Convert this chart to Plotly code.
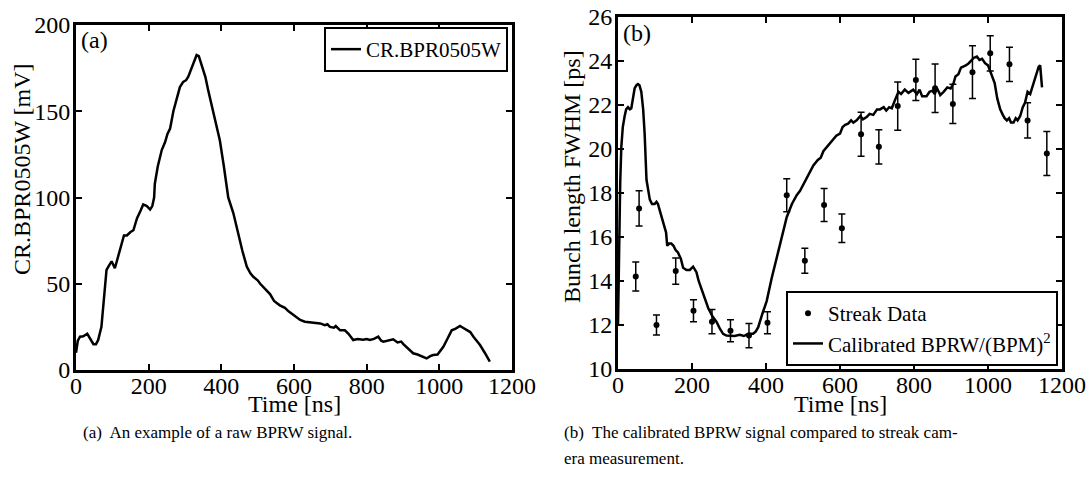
import plotly.graph_objects as go

# ---- Panel (a): raw BPRW signal ----
raw_t = [0, 5, 11, 20, 31, 40, 48, 55, 61, 70, 78, 84, 92, 98, 107, 115, 125, 132, 140, 150,
         158, 168, 177, 185, 195, 204, 210, 215, 217, 225, 236, 245, 252, 259, 268, 278, 286,
         295, 303, 309, 318, 326, 332, 338, 341, 348, 356, 364, 374, 385, 396, 407, 419, 433,
         445, 458, 470, 480, 488, 500, 507, 515, 525, 534, 545, 561, 575, 585, 598, 608, 617,
         630, 645, 660, 672, 685, 692, 699, 710, 715, 727, 740, 750, 763, 775, 790, 800, 809,
         820, 832, 840, 846, 860, 873, 885, 895, 901, 915, 928, 940, 955, 965, 975, 983, 995,
         1011, 1022, 1034, 1045, 1057, 1065, 1075, 1085, 1095, 1105, 1112, 1125, 1139]
raw_mv = [10, 17, 19.3, 19.5, 21, 18, 15, 15, 17.4, 25, 45, 58, 61, 63, 59, 65, 72, 78, 78, 80,
          81, 88, 92, 96, 95, 93, 95, 100, 108, 118, 127.5, 132, 137, 140, 150, 158, 164,
          167, 168, 170, 175, 180, 182.6, 182, 180, 175, 170, 162, 153, 143, 133, 118, 100, 91,
          80, 69, 60, 56, 54, 52, 50, 48, 46, 44, 40, 37.5, 36, 34, 32, 30, 29,
          28, 27.5, 27, 27, 26, 26.5, 25, 24.5, 25.5, 23, 23, 21, 17.4, 18, 17.5, 18, 17.4,
          18, 19.3, 17, 16.4, 17, 17.8, 16, 16.5, 15, 12, 9.7, 9, 7.5, 6.7, 8, 8.7, 9,
          13.5, 18, 23, 24, 25.5, 24.5, 23, 22, 19, 16.5, 14.5, 10, 4.8]

# ---- Panel (b): calibrated signal ----
cal_t = [0, 3, 6, 9, 13, 18, 22, 27, 32, 36, 40, 45, 50, 54, 58, 63, 68, 72, 77, 81, 86, 92,
         99, 104, 108, 113, 120, 126, 130, 133, 138, 144, 150, 156, 162, 170, 176, 185, 194,
         203, 208, 212, 218, 226, 235, 244, 255, 266, 275, 284, 293, 302, 315, 329, 340, 352,
         365, 372, 379, 390, 402, 415, 429, 442, 456, 470, 483, 492, 501, 510, 520, 528, 540,
         548, 555, 565, 575, 582, 590, 600, 607, 614, 622, 630, 636, 645, 655, 662, 672, 680,
         690, 700, 708, 718, 725, 733, 740, 748, 758, 765, 775, 785, 798, 808, 815, 822, 834,
         842, 850, 856, 862, 867, 871, 880, 890, 899, 907, 912, 920, 927, 934, 940, 948, 955,
         962, 970, 977, 984, 992, 1000, 1010, 1018, 1025, 1033, 1040, 1045, 1051, 1057, 1062,
         1069, 1075, 1080, 1087, 1094, 1100, 1107, 1114, 1122, 1130, 1137, 1141, 1146]
cal_ps = [12, 16, 18.5, 20.1, 21, 21.5, 21.8, 21.9, 21.8, 21.85, 22.3, 22.76, 22.9, 22.95, 22.9,
          22.6, 21.8, 20.7, 18.6, 18.2, 17.7, 17.5, 17.5, 17.6, 17.5, 17.2, 16.8, 16.5, 16.2,
          15.6, 15.7, 15.7, 15.6, 15.4, 15.3, 15.0, 14.6, 14.5, 14.5, 14.65, 14.5, 14.4, 14.0,
          13.6, 13.2, 12.76, 12.4, 12.15, 11.85, 11.6, 11.52, 11.5, 11.5, 11.55, 11.5, 11.6,
          11.6, 11.7, 11.9, 12.5, 13.1, 14.1, 15.1, 16.0, 16.9, 17.5, 17.9, 18.1, 18.4, 18.7,
          19.0, 19.25, 19.5, 19.6, 19.9, 20.1, 20.3, 20.4, 20.6, 20.7, 21.0, 21.1, 21.15, 21.3,
          21.2, 21.3, 21.5, 21.35, 21.45, 21.6, 21.55, 21.8, 21.8, 21.9, 21.75, 21.9, 21.85,
          22.2, 22.6, 22.5, 22.7, 22.55, 22.7, 22.5, 22.7, 22.4, 22.4, 22.6, 22.65, 22.5, 22.76,
          22.6, 22.45, 22.6, 22.8, 22.75, 23.0, 23.3, 23.4, 23.7, 23.74, 23.8, 23.9, 24.05,
          24.15, 24.2, 24.05, 24.1, 23.9, 23.8, 23.4, 23.0, 22.3, 21.8, 21.55, 21.4, 21.3, 21.4,
          21.2, 21.2, 21.4, 21.3, 21.5, 21.9, 22.1, 22.6, 22.5, 22.9, 23.3, 23.74, 23.8, 22.8]

streak_t = [48, 57, 104, 156, 204, 254, 304, 354, 404, 456, 505, 557, 605, 657, 705, 756, 805,
            857, 905, 958, 1006, 1058, 1107, 1159]
streak_ps = [14.2, 17.3, 12.0, 14.45, 12.65, 12.15, 11.74, 11.52, 12.1, 17.9, 14.92, 17.45,
             16.4, 20.67, 20.1, 21.95, 23.14, 22.76, 22.05, 23.49, 24.35, 23.85, 21.3, 19.8]
streak_err = [0.66, 0.8, 0.45, 0.6, 0.5, 0.55, 0.5, 0.55, 0.5, 0.75, 0.57, 0.75, 0.65, 1.0,
              0.78, 1.1, 0.94, 1.1, 0.89, 1.2, 0.8, 0.78, 0.8, 1.0]

x_ticks = [0, 200, 400, 600, 800, 1000, 1200]
ya_ticks = [0, 50, 100, 150, 200]
yb_ticks = [10, 12, 14, 16, 18, 20, 22, 24, 26]

W, H = 1091, 488
FONT = "Liberation Serif"

def px_x(p):
    return p / W

def px_y(p):
    return 1 - p / H

fig = go.Figure()

fig.add_trace(go.Scatter(x=raw_t, y=raw_mv, mode="lines", name="CR.BPR0505W",
                         line=dict(color="black", width=2.5), xaxis="x", yaxis="y",
                         legend="legend"))

fig.add_trace(go.Scatter(x=streak_t, y=streak_ps, mode="markers", name="Streak Data",
                         marker=dict(color="black", size=6),
                         error_y=dict(type="data", array=streak_err, color="black",
                                      thickness=1.5, width=3.5),
                         xaxis="x2", yaxis="y2", legend="legend2"))
fig.add_trace(go.Scatter(x=cal_t, y=cal_ps, mode="lines",
                         name="Calibrated BPRW/(BPM)<sup>2</sup>",
                         line=dict(color="black", width=2.5), xaxis="x2", yaxis="y2",
                         legend="legend2"))

axis_common = dict(showline=True, linecolor="black", linewidth=3, mirror="ticks",
                   ticks="inside", ticklen=6, tickwidth=2, tickcolor="black",
                   showgrid=False, zeroline=False, automargin=False,
                   tickfont=dict(family=FONT, size=24, color="black"))

fig.update_layout(
    template="none",
    width=W, height=H,
    margin=dict(l=0, r=0, t=0, b=0, pad=0, autoexpand=False),
    paper_bgcolor="white", plot_bgcolor="white",
    font=dict(family=FONT, color="black"),
    xaxis=dict(domain=[px_x(76), px_x(512)], range=[0, 1200], tickvals=x_ticks,
               anchor="y", ticklabelstandoff=-8, **axis_common),
    yaxis=dict(domain=[px_y(370), px_y(25)], range=[0, 200], tickvals=ya_ticks,
               anchor="x", ticklabelstandoff=-2, **axis_common),
    xaxis2=dict(domain=[px_x(618), px_x(1062)], range=[0, 1200], tickvals=x_ticks,
                anchor="y2", ticklabelstandoff=-8, **axis_common),
    yaxis2=dict(domain=[px_y(369), px_y(17)], range=[10, 26], tickvals=yb_ticks,
                anchor="x2", ticklabelstandoff=-2, **axis_common),
    legend=dict(x=px_x(508), y=px_y(27), xanchor="right", yanchor="top",
                bgcolor="white", bordercolor="black", borderwidth=2,
                font=dict(family=FONT, size=21, color="black"), itemwidth=30),
    legend2=dict(x=px_x(1058), y=px_y(366), xanchor="right", yanchor="bottom",
                 bgcolor="white", bordercolor="black", borderwidth=2,
                 font=dict(family=FONT, size=21, color="black"), itemwidth=30,
                 tracegroupgap=0),
    showlegend=True,
)

ann_font = dict(family=FONT, size=24, color="black")
cap_font = dict(family=FONT, size=17, color="black")
annotations = [
    dict(text="Time [ns]", x=px_x(294), y=px_y(404), font=ann_font),
    dict(text="Time [ns]", x=px_x(840), y=px_y(404), font=ann_font),
    dict(text="CR.BPR0505W [mV]", x=px_x(22), y=px_y(169), textangle=-90, font=ann_font),
    dict(text="Bunch length FWHM [ps]", x=px_x(572), y=px_y(177), textangle=-90,
         font=ann_font),
    dict(text="(a)", x=px_x(94), y=px_y(40), font=ann_font),
    dict(text="(b)", x=px_x(637), y=px_y(33), font=ann_font),
    dict(text="(a)  An example of a raw BPRW signal.", x=px_x(217), y=px_y(432),
         font=cap_font),
    dict(text="(b)  The calibrated BPRW signal compared to streak cam-", x=px_x(562),
         y=px_y(432), xanchor="left", font=cap_font),
    dict(text="era measurement.", x=px_x(562), y=px_y(458), xanchor="left", font=cap_font),
]
for a in annotations:
    a.setdefault("xref", "paper")
    a.setdefault("yref", "paper")
    a.setdefault("xanchor", "center")
    a.setdefault("yanchor", "middle")
    a.setdefault("showarrow", False)
fig.update_layout(annotations=annotations)

fig.write_html("out.html")
